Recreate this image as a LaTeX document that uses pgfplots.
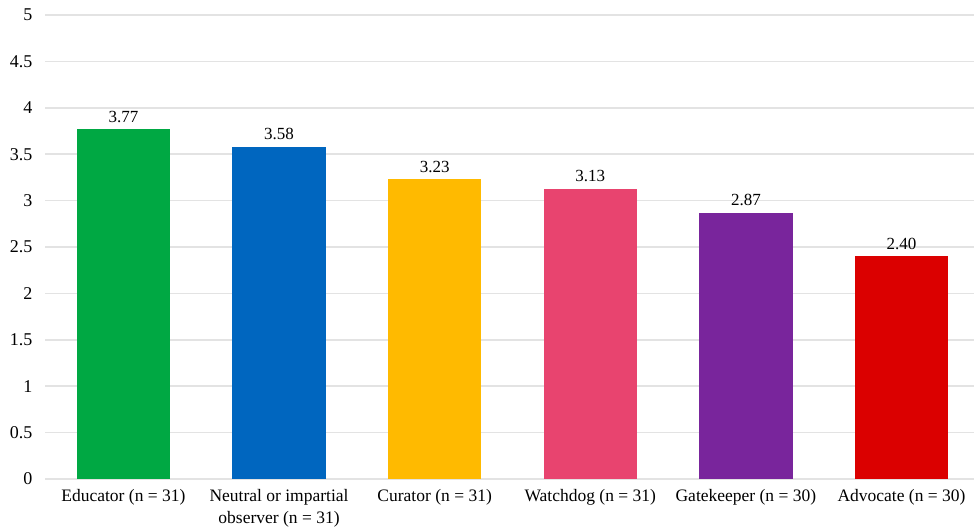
\documentclass[border=0pt]{standalone}
\usepackage{pgfplots}
\pgfplotsset{compat=1.18}
\usepackage{fontspec}
\setmainfont{Liberation Serif}

\definecolor{cEdu}{HTML}{00A843}
\definecolor{cNeu}{HTML}{0066BF}
\definecolor{cCur}{HTML}{FFBA00}
\definecolor{cWat}{HTML}{E8446F}
\definecolor{cGat}{HTML}{79259C}
\definecolor{cAdv}{HTML}{DB0000}
\definecolor{gridgray}{HTML}{E3E3E3}

\begin{document}
\begin{tikzpicture}[x=1pt,y=1pt]
\begin{axis}[
  scale only axis,
  width=929pt, height=464pt,
  ybar, bar width=0.6, bar shift=0pt,
  xmin=-0.504, xmax=5.466,
  ymin=0, ymax=5,
  ytick={0,0.5,...,5},
  xtick={0,1,2,3,4,5},
  xticklabels={Educator (n = 31),{Neutral or impartial\\observer (n = 31)},Curator (n = 31),Watchdog (n = 31),Gatekeeper (n = 30),Advocate (n = 30)},
  xticklabel style={align=center, font=\fontsize{17.5}{22}\selectfont, yshift=-7pt},
  yticklabel style={font=\fontsize{18}{20}\selectfont, xshift=-9pt},
  /pgf/number format/assume math mode=true,
  major tick length=0pt,
  axis line style={draw=none},
  ymajorgrids,
  grid style={gridgray, line width=1.5pt},
  nodes near coords,
  nodes near coords style={font=\fontsize{17}{20}\selectfont, text=black, yshift=3pt,
    /pgf/number format/.cd, fixed, precision=2, fixed zerofill, assume math mode=true},
  every axis plot/.append style={draw=none},
]
\addplot[fill=cEdu] coordinates {(0,3.77)};
\addplot[fill=cNeu] coordinates {(1,3.58)};
\addplot[fill=cCur] coordinates {(2,3.23)};
\addplot[fill=cWat] coordinates {(3,3.13)};
\addplot[fill=cGat] coordinates {(4,2.87)};
\addplot[fill=cAdv] coordinates {(5,2.40)};
\end{axis}
\pgfresetboundingbox
\path (current axis.south west) ++(-45pt,-49pt) coordinate (bbA);
\path (current axis.north east) ++(0pt,15pt) coordinate (bbB);
\path[use as bounding box] (bbA) rectangle (bbB);
\end{tikzpicture}
\end{document}
